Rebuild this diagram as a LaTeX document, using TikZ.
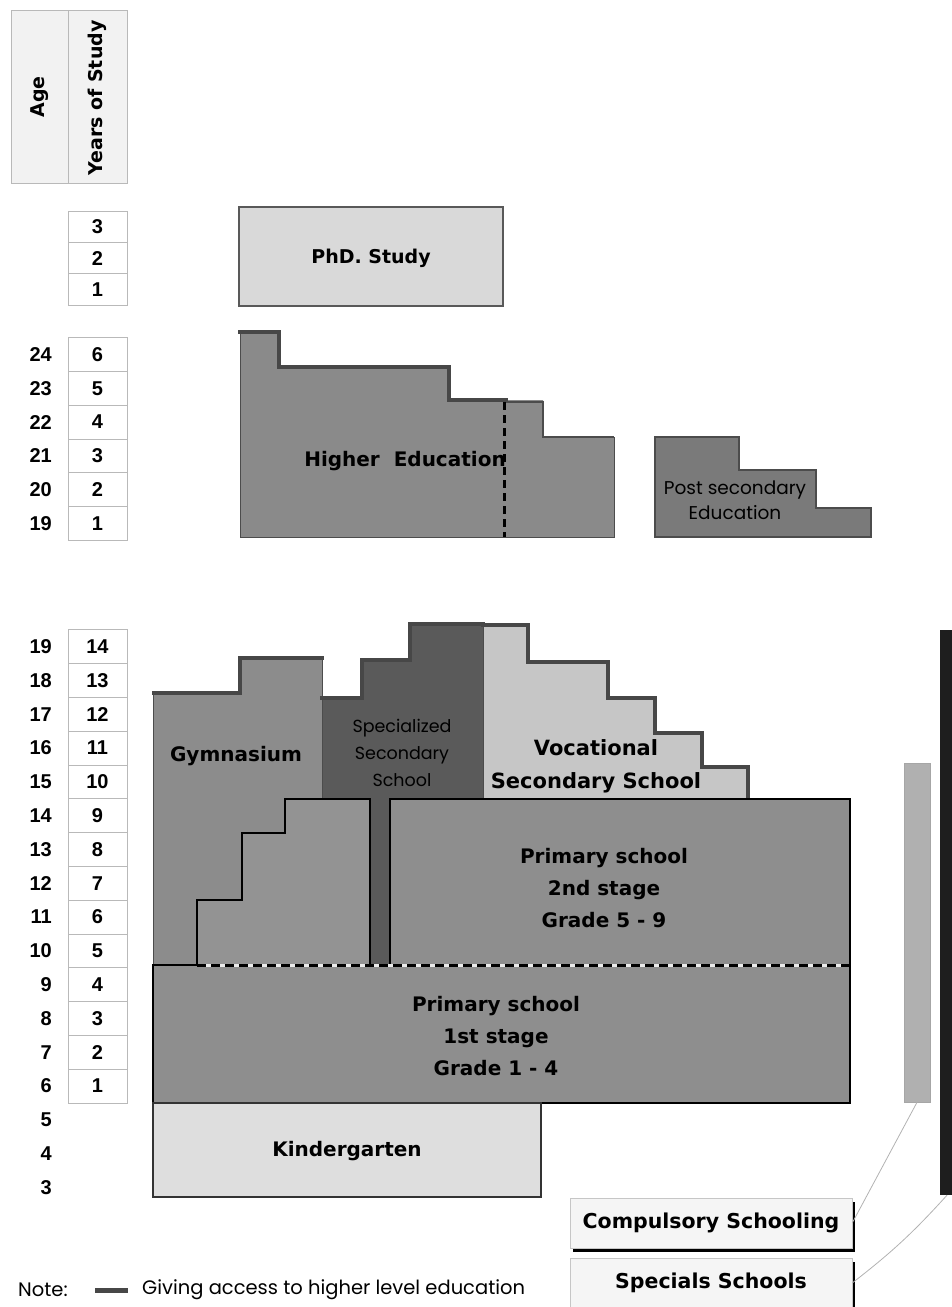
\documentclass[tikz,border=0pt]{standalone}
\usepackage{fontspec}
\setmainfont{DejaVu Sans}
\newfontfamily\numf{Liberation Sans}
\newfontfamily\lightf{Poppins}
\usetikzlibrary{shadows}
\definecolor{hedu}{HTML}{8A8A8A}
\definecolor{posts}{HTML}{7A7A7A}
\definecolor{gymn}{HTML}{8C8C8C}
\definecolor{gymin}{HTML}{939393}
\definecolor{spec}{HTML}{5A5A5A}
\definecolor{voca}{HTML}{C6C6C6}
\definecolor{prim}{HTML}{8E8E8E}
\definecolor{kind}{HTML}{DEDEDE}
\definecolor{phdc}{HTML}{D9D9D9}
\definecolor{lbar}{HTML}{B0B0B0}
\definecolor{dbar}{HTML}{1E1E1E}
\begin{document}
\begin{tikzpicture}[x=1pt,y=-1pt,
  cell/.style={draw=gray!55, line width=0.8pt, minimum width=59pt, minimum height=33.8pt, inner sep=0pt, font=\numf\fontsize{20}{22}\selectfont\bfseries},
  agenum/.style={anchor=east, inner sep=0pt, font=\numf\fontsize{20}{22}\selectfont\bfseries},
  blab/.style={align=center, inner sep=0pt, font=\fontsize{20}{32}\selectfont\bfseries},
  llab/.style={align=center, inner sep=0pt, font=\lightf\fontsize{17.5}{27}\selectfont},
  access/.style={line width=3.5pt, draw=black!72, line cap=rect},
  edge/.style={line width=1pt, draw=black!70},
  outl/.style={line width=2.5pt, draw=black, line join=miter},
  tagbox/.style={draw=gray!45, fill=gray!8, minimum width=282pt, minimum height=50pt, inner sep=0pt,
     font=\fontsize{20.5}{22}\selectfont\bfseries,
     drop shadow={shadow xshift=3pt, shadow yshift=-3.5pt, fill=black, opacity=1}},
  conn/.style={draw=gray!60, line width=0.8pt},
  notef/.style={anchor=west, inner sep=0pt, font=\lightf\fontsize{19.5}{22}\selectfont},
]
\useasboundingbox (0,0) rectangle (952,1307);

% ---------- header ----------
\draw[draw=gray!55, fill=gray!10, line width=0.8pt] (11,10) rectangle (127,183);
\draw[draw=gray!55, line width=0.8pt] (68,10) -- (68,183);
\node[rotate=90, font=\fontsize{19}{22}\selectfont\bfseries] (agehd) at (40,97) {Age};
\node[rotate=90, font=\fontsize{19}{22}\selectfont\bfseries] (yrshd) at (97,98) {Years of Study};

% ---------- year / age columns ----------
\foreach \k in {1,2,3}
  \node[cell, minimum height=31.3pt] (phd\k) at (97.5,{305-(\k-0.5)*31.3}) {\k};
\foreach \k in {1,...,6}{
  \node[cell, minimum height=33.7pt] (he\k) at (97.5,{540-(\k-0.5)*33.7}) {\k};
  \pgfmathtruncatemacro\a{\k+18}
  \node[agenum] (hea\k) at (52,{540-(\k-0.5)*33.7}) {\a};
}
\foreach \k in {1,...,14}
  \node[cell] (sy\k) at (97.5,{1103-(\k-0.5)*33.8}) {\k};
\foreach \k in {-2,...,14}{
  \pgfmathtruncatemacro\a{\k+5}
  \node[agenum] (sa\a) at (52,{1103-(\k-0.5)*33.8}) {\a};
}

% ---------- PhD ----------
\draw[fill=phdc, draw=black!65, line width=1.2pt] (239,207) rectangle (503,306);
\node[blab, font=\fontsize{19}{32}\selectfont\bfseries] (phd) at (371,258) {PhD. Study};

% ---------- Higher education ----------
\fill[hedu] (240,332) -- (279,332) -- (279,367) -- (449,367) -- (449,400) -- (543,400)
  -- (543,437) -- (614,437) -- (614,537) -- (240,537) -- cycle;
\draw[edge] (240,332) -- (240,537) -- (614,537) -- (614,437);
\draw[access] (240,332) -- (279,332) -- (279,367) -- (449,367) -- (449,400) -- (506,400);
\draw[edge, line width=1.6pt] (506,402) -- (543,402) -- (543,437) -- (614,437);
\draw[line width=3pt, dash pattern=on 8pt off 5pt] (504,402) -- (504,537);
\node[blab] (hed) at (405,461) {Higher\ \ Education};

% ---------- Post secondary ----------
\fill[posts] (655,437) -- (739,437) -- (739,470) -- (816,470) -- (816,508) -- (871,508)
  -- (871,537) -- (655,537) -- cycle;
\draw[edge, line width=1.4pt] (655,537) -- (655,437) -- (739,437) -- (739,470) -- (816,470) -- (816,508) -- (871,508) -- (871,537) -- cycle;
\node[llab, font=\lightf\fontsize{18.5}{25}\selectfont] (pse) at (735,500) {Post secondary\\Education};

% ---------- Gymnasium ----------
\fill[gymn] (153,693) -- (240,693) -- (240,658) -- (322,658) -- (322,965) -- (153,965) -- cycle;
\draw[edge] (153,693) -- (153,965);
\draw[access] (154,693) -- (240,693) -- (240,658) -- (322,658);
\node[blab] (gym) at (236,756) {Gymnasium};

% ---------- Specialized secondary ----------
\fill[spec] (322,698) -- (362,698) -- (362,660) -- (410,660) -- (410,624) -- (483,624)
  -- (483,799) -- (390,799) -- (390,965) -- (370,965) -- (370,799) -- (322,799) -- cycle;
\draw[edge] (322,658) -- (322,799);
\draw[access] (322,698) -- (362,698) -- (362,660) -- (410,660) -- (410,624) -- (483,624);
\node[llab] (sss) at (402,753) {Specialized\\Secondary\\School};

% ---------- Vocational ----------
\fill[voca] (483,625) -- (528,625) -- (528,662) -- (608,662) -- (608,698) -- (655,698)
  -- (655,733) -- (702,733) -- (702,767) -- (748,767) -- (748,799) -- (483,799) -- cycle;
\draw[edge] (483,624) -- (483,799);
\draw[access] (483,625) -- (528,625) -- (528,662) -- (608,662) -- (608,698) -- (655,698)
  -- (655,733) -- (702,733) -- (702,767) -- (748,767) -- (748,797);
\node[blab, font=\fontsize{21}{33}\selectfont\bfseries] (vss) at (596,766) {Vocational\\Secondary School};

% ---------- Gymnasium lower (stepped) ----------
\fill[gymin] (197,965) -- (197,900) -- (242,900) -- (242,833) -- (285,833) -- (285,799)
  -- (370,799) -- (370,965) -- cycle;
\draw[outl] (197,965) -- (197,900) -- (242,900) -- (242,833) -- (285,833) -- (285,799)
  -- (370,799) -- (370,965);

% ---------- Primary 2nd stage ----------
\fill[prim] (390,799) rectangle (850,965);
\draw[outl] (390,965) -- (390,799) -- (850,799) -- (850,965);
\node[blab] (p2) at (604,888) {Primary school\\2nd stage\\Grade 5 - 9};

% ---------- Primary 1st stage ----------
\fill[prim] (153,965) rectangle (850,1103);
\draw[outl] (197,965) -- (153,965) -- (153,1103) -- (850,1103) -- (850,965);
\draw[white!85!gray, line width=3pt] (197,965) -- (850,965);
\draw[black, line width=3pt, dash pattern=on 9pt off 5pt] (197,965) -- (850,965);
\node[blab] (p1) at (496,1036) {Primary school\\1st stage\\Grade 1 - 4};

% ---------- Kindergarten ----------
\draw[fill=kind, draw=black!80, line width=2pt] (153,1103) rectangle (541,1197);
\node[blab] (kg) at (347,1151) {Kindergarten};

% ---------- right bars ----------
\node[fill=lbar, draw=gray!70, line width=0.6pt, minimum width=26pt, minimum height=339pt, inner sep=0pt] (cbar) at (917,932.5) {};
\node[fill=dbar, minimum width=14pt, minimum height=565pt, inner sep=0pt] (sbar) at (947,912.5) {};

% ---------- tag boxes ----------
\node[tagbox] (comp) at (711,1223) {Compulsory Schooling};
\node[tagbox] (spsch) at (711,1283) {Specials Schools};
\draw[conn] (comp.east) -- (cbar.south);
\draw[conn] (spsch.east) to[bend right=5] (sbar.south);

% ---------- note ----------
\node[notef] (note) at (18,1290) {Note:};
\coordinate (la) at (95,1290);
\coordinate (lb) at (128,1290);
\draw[line width=5pt, black!72] (la) -- (lb);
\node[notef] (notetxt) at (142,1290) {Giving access to higher level education};
\end{tikzpicture}
\end{document}
